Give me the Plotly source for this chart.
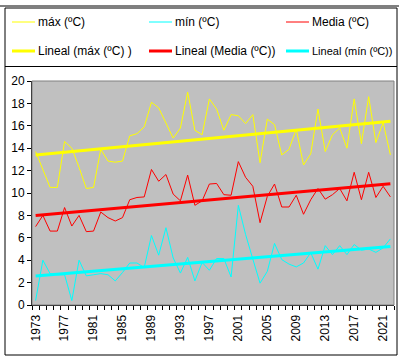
import numpy as np
import plotly.graph_objects as go

years = list(range(1973, 2023))

t_max = [13.7, 12.1, 10.5, 10.5, 14.6, 14.0, 12.3, 10.4, 10.5, 13.9,
         12.85, 12.75, 12.85, 15.1, 15.3, 15.9, 18.1, 17.6, 16.3, 14.9,
         15.8, 19.0, 15.6, 15.2, 18.4, 17.5, 15.6, 17.0, 16.9, 16.2,
         17.0, 12.7, 16.6, 16.1, 13.4, 13.9, 15.7, 12.5, 13.5, 17.5,
         13.7, 15.2, 15.8, 14.0, 18.4, 14.4, 18.6, 14.5, 16.3, 13.4]

t_med = [7.0, 8.0, 6.6, 6.6, 8.7, 7.05, 8.0, 6.55, 6.6, 8.3,
         7.8, 7.5, 7.8, 9.4, 9.6, 9.65, 12.1, 11.05, 11.65, 9.9,
         9.3, 11.6, 8.9, 9.3, 10.8, 10.85, 9.85, 9.8, 12.8, 11.4,
         10.6, 7.35, 9.7, 10.8, 8.75, 8.75, 9.8, 8.1, 9.4, 10.4,
         9.45, 9.85, 10.4, 9.3, 11.85, 9.4, 11.85, 9.6, 10.6, 9.65]

t_min = [0.4, 4.0, 2.8, 2.7, 2.7, 0.4, 4.0, 2.6, 2.7, 2.8,
         2.7, 2.15, 2.9, 3.75, 3.75, 3.35, 6.2, 4.45, 6.9, 4.2,
         2.85, 4.25, 2.15, 3.8, 3.1, 4.15, 4.15, 2.5, 8.9, 6.3,
         4.1, 1.95, 3.0, 5.5, 4.05, 3.65, 3.4, 3.75, 4.67, 3.2,
         5.3, 4.5, 5.3, 4.5, 5.4, 4.9, 5.0, 4.7, 5.1, 5.9]

tick_years = years[::4]
tick_labels = [str(y) for y in tick_years]

names = ["máx (ºC)", "mín (ºC)", "Media (ºC)"]
trend_names = ["Lineal (máx (ºC) )", "Lineal (Media (ºC))", "Lineal (mín (ºC))"]

YELLOW = "#FFFF00"
CYAN = "#00FFFF"
RED = "#FF0000"

def trend(vals):
    a, b = np.polyfit(years, vals, 1)
    return [a * y + b for y in years]

fig = go.Figure()
fig.add_trace(go.Scatter(x=years, y=t_max, mode="lines", name=names[0],
                         line=dict(color=YELLOW, width=1)))
fig.add_trace(go.Scatter(x=years, y=t_min, mode="lines", name=names[1],
                         line=dict(color=CYAN, width=1)))
fig.add_trace(go.Scatter(x=years, y=t_med, mode="lines", name=names[2],
                         line=dict(color=RED, width=1)))
fig.add_trace(go.Scatter(x=years, y=trend(t_max), mode="lines", name=trend_names[0],
                         line=dict(color=YELLOW, width=3)))
fig.add_trace(go.Scatter(x=years, y=trend(t_med), mode="lines", name=trend_names[1],
                         line=dict(color=RED, width=3)))
fig.add_trace(go.Scatter(x=years, y=trend(t_min), mode="lines", name=trend_names[2],
                         line=dict(color=CYAN, width=3)))

W, H = 399, 360
ML, MR, MT, MB = 32, 5, 81, 55
PW, PH = W - ML - MR, H - MT - MB

def px(x):
    return (x - ML) / PW

def py(y):
    return (H - MB - y) / PH

shapes = []
# plot area border (gray)
shapes.append(dict(type="rect", xref="x domain", yref="y domain", x0=0, x1=1, y0=0, y1=1,
                   line=dict(color="#808080", width=1), layer="above"))
# chart border
shapes.append(dict(type="line", xref="paper", yref="paper", x0=px(0), x1=px(399),
                   y0=py(6), y1=py(6), line=dict(color="black", width=1)))
shapes.append(dict(type="rect", xref="paper", yref="paper", x0=px(5), x1=px(397),
                   y0=py(8), y1=py(355), line=dict(color="black", width=1)))
# legend box bottom
shapes.append(dict(type="line", xref="paper", yref="paper", x0=px(5), x1=px(397),
                   y0=py(66.5), y1=py(66.5), line=dict(color="black", width=1)))

legend_items = [
    (names[0], YELLOW, 1, 12, 22, 12),
    (names[1], CYAN, 1, 149, 22, 12),
    (names[2], RED, 1, 286, 22, 12),
    (trend_names[0], YELLOW, 3, 12, 51, 12),
    (trend_names[1], RED, 3, 149, 51, 12),
    (trend_names[2], CYAN, 3, 286, 51, 11),
]
annotations = []
for text, col, w, lx, ly, fs in legend_items:
    shapes.append(dict(type="line", xref="paper", yref="paper", x0=px(lx), x1=px(lx + 23),
                       y0=py(ly), y1=py(ly), line=dict(color=col, width=w)))
    annotations.append(dict(text=text, xref="paper", yref="paper", x=px(lx + 24), y=py(ly),
                            xanchor="left", yanchor="middle", showarrow=False,
                            font=dict(size=fs, color="black")))

fig.update_layout(
    width=W, height=H,
    margin=dict(l=ML, r=MR, t=MT, b=MB, autoexpand=False),
    paper_bgcolor="white", plot_bgcolor="#C0C0C0",
    font=dict(family="Liberation Sans, Arial, sans-serif", size=12, color="black"),
    showlegend=False,
    shapes=shapes, annotations=annotations,
    xaxis=dict(range=[1972.5, 2022.5], tickmode="array", tickvals=tick_years,
               ticktext=tick_labels, tickangle=-90, ticks="outside", ticklen=4,
               tickcolor="rgba(0,0,0,0)", showline=True, linecolor="black", linewidth=1,
               showgrid=False, zeroline=False, automargin=False,
               minor=dict(tick0=1972.5, dtick=1, ticks="outside", ticklen=4,
                          tickcolor="black", showgrid=False)),
    yaxis=dict(range=[0, 20], dtick=2, ticks="outside", ticklen=4, tickcolor="black",
               showline=True, linecolor="black", linewidth=1, showgrid=False,
               zeroline=False, automargin=False),
)

fig.write_html("out.html", config={"displayModeBar": False},
               post_script="document.body.style.margin='0';document.body.style.padding='0';")
